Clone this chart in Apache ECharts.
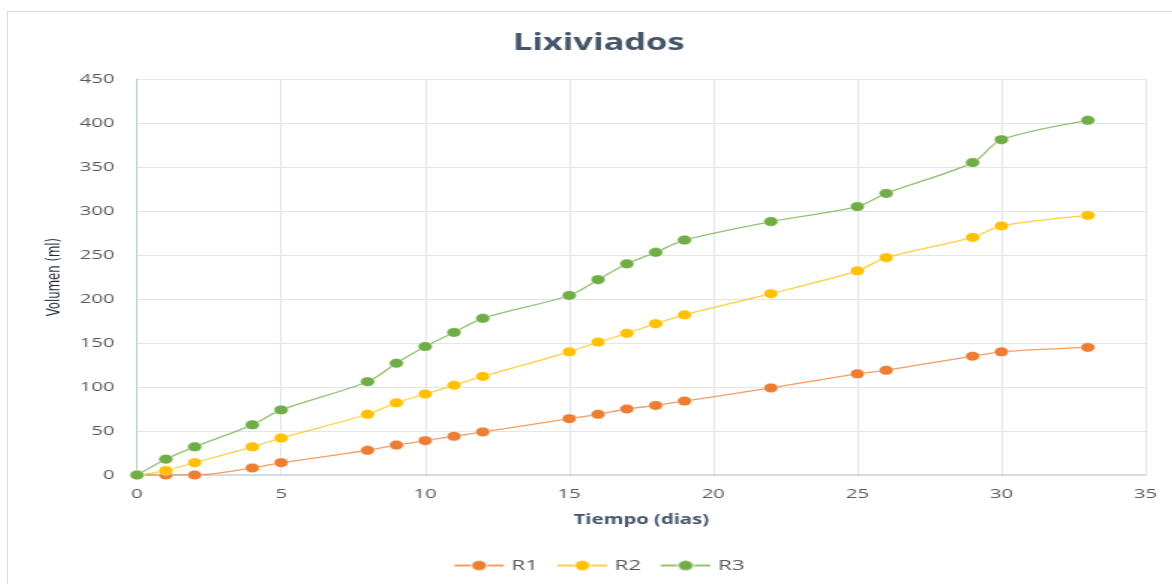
<!DOCTYPE html>
<html>
<head>
<meta charset="utf-8">
<script src="https://cdn.jsdelivr.net/npm/echarts@6/dist/echarts.min.js"></script>
<style>
  html, body { margin: 0; padding: 0; background: #fff; overflow: hidden; }
  #frame { position: absolute; left: 7px; top: 11px; width: 1183px; height: 590px; border: 1px solid #d9dde3; box-sizing: border-box; }
  /* the chart is laid out narrow and widened horizontally */
  #chart { position: absolute; left: 7px; top: 0; width: 788.7px; height: 584px; transform: scaleX(1.5); transform-origin: 0 0; }
</style>
</head>
<body>
<div id="frame"></div>
<div id="chart"></div>
<script>
// Días de muestreo y volumen acumulado de lixiviados (ml) por reactor
const dias = [0, 1, 2, 4, 5, 8, 9, 10, 11, 12, 15, 16, 17, 18, 19, 22, 25, 26, 29, 30, 33];
const r1 = [0, 0, 0, 8, 14, 28, 34, 39, 44, 49, 64, 69, 75, 79, 84, 99, 115, 119, 135, 140, 145];
const r2 = [0, 5, 14, 32, 42, 69, 82, 92, 102, 112, 140, 151, 161, 172, 182, 206, 232, 247, 270, 283, 295];
const r3 = [0, 18, 32, 57, 74, 106, 127, 146, 162, 178, 204, 222, 240, 253, 267, 288, 305, 320, 355, 381, 403];
const seriesNames = ['R1', 'R2', 'R3'];
const colors = ['#ED7D31', '#FFC000', '#70AD47'];

const pairs = arr => dias.map((d, i) => [d, arr[i]]);
const font = 'Open Sans, DejaVu Sans, sans-serif';

const chart = echarts.init(document.getElementById('chart'));
chart.setOption({
  animation: false,
  title: {
    text: 'Lixiviados',
    left: 'center',
    top: 27,
    textStyle: { fontFamily: font, fontSize: 23, fontWeight: 'bold', color: '#44546A' }
  },
  legend: {
    data: seriesNames,
    bottom: 6,
    left: 'center',
    itemWidth: 33,
    itemHeight: 13,
    itemGap: 12,
    textStyle: { fontFamily: font, fontSize: 15, color: '#595959' }
  },
  grid: { left: 86.7, right: 30, top: 79, bottom: 109 },
  xAxis: {
    type: 'value',
    min: 0, max: 35, interval: 5,
    name: 'Tiempo (dias)',
    nameLocation: 'middle',
    nameGap: 38,
    nameTextStyle: { fontFamily: font, fontSize: 13.5, fontWeight: 'bold', color: '#44546A' },
    axisLine: { show: true, lineStyle: { color: '#c9d3e0', width: 1.5 } },
    axisTick: { show: false },
    axisLabel: { fontFamily: font, fontSize: 13.5, color: '#595959', margin: 12 },
    splitLine: { show: true, lineStyle: { color: '#e1e5ec', width: 1 } }
  },
  yAxis: {
    type: 'value',
    min: 0, max: 450, interval: 50,
    name: 'Volumen (ml)',
    nameLocation: 'middle',
    nameRotate: 90,
    nameGap: 44,
    nameTextStyle: { fontFamily: 'DejaVu Sans Condensed, Liberation Sans, sans-serif', fontSize: 13, color: '#1f2a3a' },
    axisLine: { show: true, lineStyle: { color: '#b8c4d6', width: 1 } },
    axisTick: { show: false },
    axisLabel: { fontFamily: font, fontSize: 13.5, color: '#595959', margin: 15 },
    splitLine: { show: true, lineStyle: { color: '#e1e5ec', width: 1 } }
  },
  series: [r1, r2, r3].map((arr, k) => ({
    name: seriesNames[k],
    type: 'line',
    data: pairs(arr),
    smooth: 0.3,
    symbol: 'circle',
    symbolSize: 9.5,
    z: 2 + k,
    itemStyle: { color: colors[k], borderColor: 'rgba(255,255,255,0.5)', borderWidth: 0.8 },
    lineStyle: { color: colors[k], width: 1.3, opacity: 0.75 }
  }))
});
</script>
</body>
</html>
